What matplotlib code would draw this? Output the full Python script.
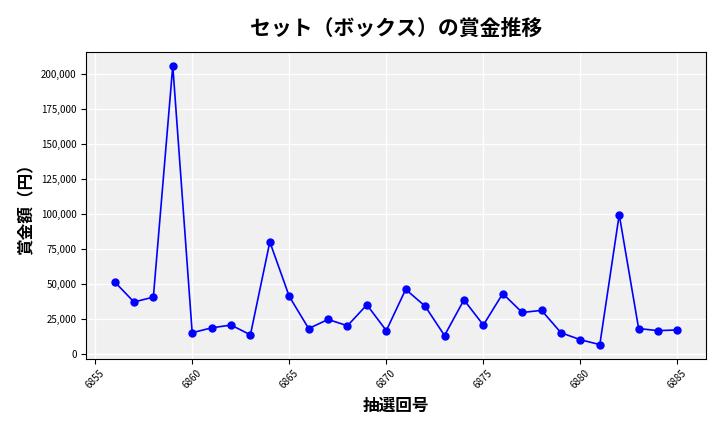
import matplotlib.pyplot as plt
from matplotlib.ticker import FuncFormatter

plt.rcParams['font.family'] = ['Noto Sans CJK JP', 'DejaVu Sans']

draws = list(range(6856, 6886))
prizes = [51500, 37000, 40500, 206000, 15000, 18500, 20500, 13500, 80000, 41000,
          18000, 24500, 20000, 35000, 16500, 46000, 34000, 13000, 38500, 20500,
          43000, 29500, 31000, 15000, 10000, 6500, 99500, 18000, 16500, 17000]

fig, ax = plt.subplots(figsize=(7.2, 4.32), dpi=100)
ax.set_facecolor('#f0f0f0')
ax.plot(draws, prizes, color='blue', marker='o', markersize=5, linewidth=1.2)
ax.grid(True, color='white', linewidth=1)
ax.set_axisbelow(True)
ax.set_xticks(range(6855, 6886, 5))
ax.tick_params(axis='x', labelrotation=45, labelsize=7)
ax.tick_params(axis='y', labelsize=7)
ax.yaxis.set_major_formatter(FuncFormatter(lambda v, p: f'{int(v):,}'))
ax.set_title('セット（ボックス）の賞金推移', fontsize=15, pad=12, fontweight='bold')
ax.set_xlabel('抽選回号', fontsize=12, fontweight='bold')
ax.set_ylabel('賞金額（円）', fontsize=12, fontweight='bold')
fig.subplots_adjust(left=0.12, right=0.98, top=0.88, bottom=0.17)
fig.savefig('out.png')
